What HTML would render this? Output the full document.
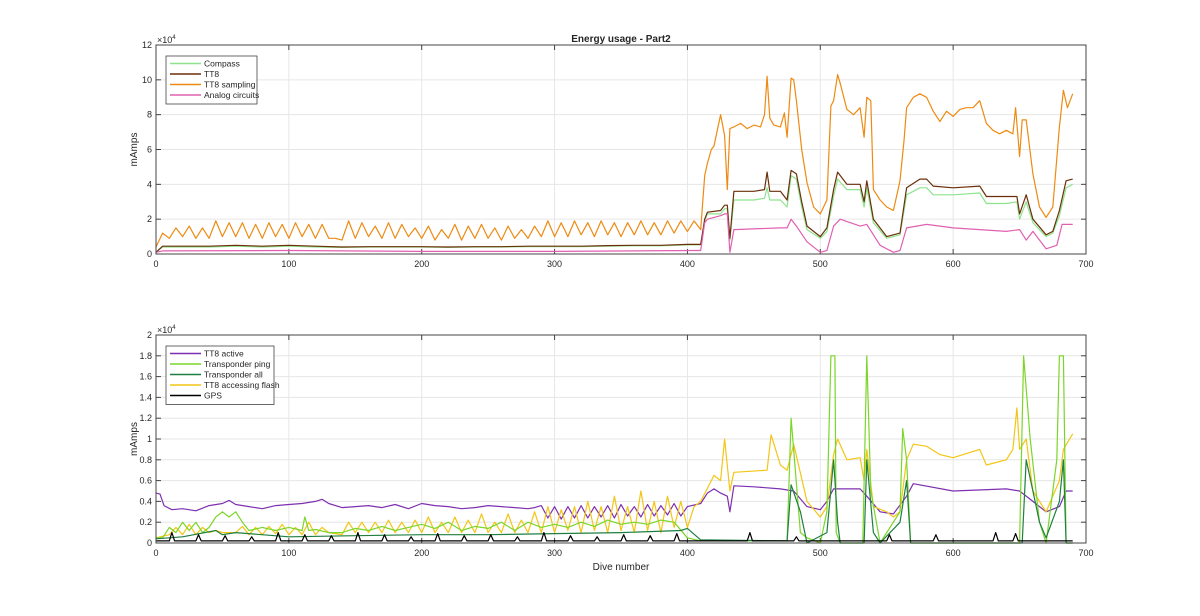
<!DOCTYPE html>
<html><head><meta charset="utf-8"><style>
body{margin:0;background:#fff;font-family:"Liberation Sans",sans-serif}
svg text{font-family:"Liberation Sans",sans-serif;fill:#262626}
</style></head><body>
<svg id="fig" width="1200" height="611" viewBox="0 0 1200 611" xmlns="http://www.w3.org/2000/svg">
<text x="621" y="42" font-size="10" font-weight="bold" text-anchor="middle">Energy usage - Part2</text>
<g id="top"></g>
<g id="bot"></g>
<text x="621" y="570" font-size="10" text-anchor="middle">Dive number</text>
</svg>
<script>
// ---- top panel data (units of 1e4 mAmps) ----
const xTicks=[0,100,200,300,400,500,600,700];
const topYTicks=[0,2,4,6,8,10,12];
const botYTicks=[0,0.2,0.4,0.6,0.8,1,1.2,1.4,1.6,1.8,2];
const samplingDives=[0,5,10,15,20,25,30,35,40,45,50,55,60,65,70,75,80,85,90,95,100,105,110,115,120,125,130,135,140,145,150,155,160,165,170,175,180,185,190,195,200,205,210,215,220,225,230,235,240,245,250,255,260,265,270,275,280,285,290,295,300,305,310,315,320,325,330,335,340,345,350,355,360,365,370,375,380,385,390,395,400,405,410,413,415,418,420,423,425,428,430,432,435,440,445,450,455,458,460,462,465,470,473,475,478,480,482,486,490,495,500,505,508,510,513,515,520,525,530,533,535,538,540,545,550,555,560,563,565,570,575,580,585,590,595,600,605,610,615,620,625,630,635,640,645,647,650,652,655,660,665,670,675,680,683,686,690];
const samplingValues=[0.4,1.2,0.9,1.5,1.0,1.6,0.9,1.5,0.9,1.9,1.0,1.8,1.0,1.8,0.9,1.7,0.9,1.8,1.0,1.7,0.9,1.8,1.0,1.7,0.9,1.7,0.9,0.9,0.8,1.9,0.9,1.8,1.0,1.6,0.9,1.8,0.9,1.7,1.0,1.5,0.9,1.6,0.8,1.4,0.9,1.7,0.8,1.6,0.9,1.7,0.9,1.5,0.8,1.6,0.9,1.4,0.9,1.6,1.0,1.9,1.0,1.8,1.0,1.9,1.1,1.8,1.0,1.9,1.1,1.8,1.0,1.8,1.1,1.9,1.1,1.8,1.1,1.9,1.2,1.9,1.3,1.9,1.4,4.5,5.2,6.0,6.2,7.3,8.0,6.8,3.7,7.2,7.3,7.5,7.2,7.4,7.3,8.0,10.2,7.8,7.4,7.3,8.1,6.7,10.1,10.0,8.8,6.0,4.1,2.7,2.3,3.1,8.5,8.8,10.3,9.8,8.3,8.0,8.4,6.7,9.0,8.8,3.7,3.1,2.7,2.5,4.2,6.5,8.4,9.0,9.2,9.0,8.2,7.6,8.2,7.9,8.3,8.4,8.4,8.8,7.5,7.1,6.9,7.1,6.9,8.4,5.6,7.7,7.7,4.6,2.7,2.1,2.7,7.3,9.4,8.4,9.2];
const ttDives=[0,5,20,40,60,80,100,120,140,160,180,200,220,240,260,280,300,320,340,360,380,400,410,413,415,425,428,430,432,435,450,458,460,462,470,475,478,482,486,490,500,505,510,513,520,530,533,535,540,550,560,565,575,580,585,600,620,625,640,648,650,655,660,670,675,680,685,690];
const ttValues=[0.1,0.45,0.45,0.45,0.5,0.45,0.5,0.45,0.4,0.42,0.42,0.42,0.4,0.42,0.42,0.45,0.45,0.45,0.48,0.5,0.5,0.55,0.55,2.0,2.4,2.5,2.8,2.8,0.9,3.6,3.6,3.7,4.7,3.6,3.6,3.1,4.8,4.6,3.0,1.6,1.0,1.5,3.7,4.7,4.0,4.0,3.0,4.2,2.0,1.0,1.2,3.8,4.3,4.3,3.9,3.8,3.9,3.3,3.3,3.3,2.3,3.4,2.0,1.1,1.3,2.5,4.2,4.3];
const compassDives=[0,5,20,40,60,80,100,120,140,160,180,200,220,240,260,280,300,320,340,360,380,400,410,413,415,425,428,430,432,435,450,458,460,462,470,475,478,482,486,490,500,505,510,513,520,530,533,535,540,550,560,565,575,580,585,600,620,625,640,648,650,655,660,670,675,680,685,690];
const compassValues=[0.1,0.4,0.4,0.4,0.45,0.4,0.45,0.4,0.38,0.4,0.4,0.4,0.38,0.4,0.4,0.42,0.42,0.42,0.45,0.47,0.47,0.52,0.52,1.9,2.3,2.3,2.6,2.6,0.8,3.1,3.1,3.2,3.8,3.1,3.1,2.7,4.5,4.3,2.7,1.4,0.9,1.3,3.3,4.3,3.7,3.7,2.7,3.8,1.8,0.9,1.1,3.4,3.8,3.8,3.4,3.4,3.5,2.9,2.9,3.0,2.0,3.0,1.8,1.0,1.2,2.2,3.8,4.0];
const analogDives=[0,5,100,200,300,405,410,413,415,425,428,430,432,435,470,475,478,482,490,500,505,510,515,530,535,545,555,560,565,580,600,640,650,655,660,670,678,682,690];
const analogValues=[0.1,0.18,0.2,0.15,0.15,0.2,0.2,1.8,2.0,2.2,2.3,2.3,0.1,1.4,1.5,1.5,2.0,1.6,0.7,0.1,0.2,1.6,2.0,1.6,1.7,0.5,0.1,0.2,1.5,1.7,1.5,1.3,1.4,0.8,1.3,0.3,0.5,1.7,1.7];
// ---- bottom panel data (units of 1e4 mAmps) ----
const activeDives=[0,3,6,12,20,30,40,50,55,60,70,80,90,100,110,120,125,130,140,150,160,170,180,190,200,210,220,230,240,250,260,270,280,285,290,295,300,305,310,315,320,325,330,335,340,345,350,355,360,365,370,375,380,385,390,395,400,410,415,420,425,430,432,435,450,470,480,490,500,505,510,530,535,545,555,565,570,600,640,650,660,670,680,685,690];
const activeValues=[0.48,0.47,0.36,0.32,0.33,0.31,0.36,0.38,0.41,0.37,0.35,0.33,0.36,0.37,0.38,0.40,0.42,0.38,0.34,0.35,0.36,0.34,0.37,0.33,0.38,0.36,0.35,0.33,0.34,0.36,0.35,0.34,0.33,0.34,0.36,0.24,0.35,0.23,0.35,0.24,0.36,0.24,0.35,0.25,0.36,0.24,0.37,0.26,0.35,0.25,0.37,0.26,0.36,0.27,0.38,0.26,0.35,0.38,0.48,0.52,0.48,0.45,0.30,0.55,0.54,0.52,0.50,0.35,0.32,0.40,0.52,0.52,0.45,0.30,0.28,0.45,0.57,0.50,0.52,0.50,0.40,0.30,0.35,0.50,0.50];
const flashDives=[0,10,15,20,25,30,35,40,45,50,55,60,65,70,75,80,85,90,95,100,105,110,115,120,125,130,140,145,150,155,160,165,170,175,180,185,190,195,200,205,210,215,220,225,230,235,240,245,250,255,260,265,270,275,280,285,290,295,300,305,310,315,320,325,330,335,340,345,350,355,360,365,370,375,380,385,390,395,400,405,410,420,425,428,432,435,460,463,470,475,480,490,500,505,510,513,520,530,533,535,540,550,555,560,565,570,580,590,600,620,625,640,645,648,650,655,660,670,680,683,690];
const flashValues=[0.05,0.08,0.15,0.08,0.18,0.08,0.15,0.1,0.12,0.1,0.1,0.1,0.16,0.08,0.15,0.08,0.16,0.09,0.18,0.08,0.15,0.08,0.2,0.08,0.15,0.1,0.08,0.2,0.1,0.2,0.1,0.2,0.1,0.22,0.1,0.2,0.1,0.22,0.1,0.25,0.1,0.2,0.1,0.25,0.1,0.22,0.1,0.28,0.1,0.2,0.1,0.28,0.1,0.22,0.1,0.3,0.1,0.35,0.1,0.32,0.12,0.35,0.1,0.4,0.12,0.35,0.1,0.45,0.12,0.35,0.1,0.5,0.12,0.4,0.1,0.45,0.15,0.4,0.15,0.35,0.4,0.65,0.6,1.0,0.5,0.68,0.7,1.04,0.75,0.7,0.95,0.4,0.25,0.35,0.85,1.0,0.8,0.82,0.6,0.9,0.35,0.3,0.25,0.3,0.8,0.95,0.93,0.85,0.82,0.9,0.75,0.8,0.9,1.3,0.9,1.0,0.5,0.3,0.6,0.9,1.05];
const pingDives=[0,5,10,15,20,25,30,35,40,45,50,55,60,65,70,80,90,100,110,112,115,120,130,140,150,160,170,180,190,200,210,220,230,240,250,260,270,280,290,300,310,320,330,340,350,360,370,380,390,400,410,475,478,485,490,500,505,508,511,512,515,532,535,538,545,560,562,565,568,650,653,658,665,670,678,680,683,685,690];
const pingValues=[0.05,0.05,0.15,0.1,0.2,0.12,0.2,0.1,0.15,0.25,0.3,0.25,0.3,0.2,0.12,0.15,0.12,0.15,0.12,0.25,0.12,0.13,0.1,0.1,0.14,0.12,0.16,0.12,0.15,0.18,0.14,0.2,0.12,0.16,0.14,0.2,0.12,0.2,0.15,0.18,0.15,0.2,0.16,0.22,0.18,0.2,0.18,0.22,0.2,0.05,0.02,0.02,1.2,0.1,0.05,0.0,0.3,1.8,1.8,0.1,0.0,0.0,1.8,0.5,0.0,0.3,1.1,0.8,0.0,0.0,1.8,1.0,0.2,0.0,0.8,1.8,1.8,0.0,0.0];
const allDives=[0,20,45,50,60,100,150,200,250,300,350,395,400,410,475,478,485,490,505,510,513,515,533,535,540,545,560,565,568,652,655,660,665,670,680,683,685,690];
const allValues=[0.04,0.06,0.12,0.08,0.1,0.06,0.07,0.08,0.08,0.09,0.1,0.12,0.14,0.03,0.02,0.56,0.3,0.0,0.1,0.8,0.2,0.0,0.0,0.8,0.1,0.0,0.2,0.6,0.0,0.0,0.8,0.5,0.2,0.05,0.4,0.8,0.0,0.0];
const gpsDives=[0,10,12,14,30,32,34,50,52,54,70,72,74,90,92,94,110,112,114,130,132,134,150,152,154,170,172,174,190,192,194,210,212,214,230,232,234,250,252,254,270,272,274,290,292,294,310,312,314,330,332,334,350,352,354,370,372,374,390,392,394,420,445,447,449,480,482,484,550,552,554,585,587,589,630,632,634,645,647,649,690];
const gpsValues=[0.02,0.02,0.1,0.02,0.02,0.08,0.02,0.02,0.07,0.02,0.02,0.06,0.02,0.02,0.1,0.02,0.02,0.08,0.02,0.02,0.07,0.02,0.02,0.1,0.02,0.02,0.08,0.02,0.02,0.06,0.02,0.02,0.09,0.02,0.02,0.07,0.02,0.02,0.08,0.02,0.02,0.06,0.02,0.02,0.1,0.02,0.02,0.07,0.02,0.02,0.06,0.02,0.02,0.08,0.02,0.02,0.07,0.02,0.02,0.09,0.02,0.02,0.02,0.1,0.02,0.02,0.06,0.02,0.02,0.08,0.02,0.02,0.08,0.02,0.02,0.1,0.02,0.02,0.09,0.02,0.02];

const NS='http://www.w3.org/2000/svg';
const X0=156,X1=1086;
function xs(d){return X0+(d/700)*(X1-X0);}
function mk(tag,attrs,parent){const e=document.createElementNS(NS,tag);for(const k in attrs)e.setAttribute(k,attrs[k]);parent.appendChild(e);return e;}

function panel(g,yTop,yBot,yMax,ticks,series,legend,leg){
  const ys=v=>yBot-(v/yMax)*(yBot-yTop);
  const bg=mk('rect',{x:X0,y:yTop,width:X1-X0,height:yBot-yTop,fill:'#fff'},g);
  
  
  xTicks.forEach(t=>{
    const l=mk('line',{x1:xs(t),x2:xs(t),y1:yTop,y2:yBot,stroke:'#e6e6e6','stroke-width':1},g);
    
    
    const tk=mk('line',{x1:xs(t),x2:xs(t),y1:yBot,y2:yBot-5,stroke:'#444'},g);
    
    
    const tk2=mk('line',{x1:xs(t),x2:xs(t),y1:yTop,y2:yTop+5,stroke:'#444'},g);
    
    
    const tx=mk('text',{x:xs(t),y:yBot+13,'font-size':9,'text-anchor':'middle'},g);
    tx.textContent=t;
    
    
  });
  ticks.forEach(t=>{
    const l=mk('line',{x1:X0,x2:X1,y1:ys(t),y2:ys(t),stroke:'#e6e6e6'},g);
    
    
    const tk=mk('line',{x1:X0,x2:X0+5,y1:ys(t),y2:ys(t),stroke:'#444'},g);
    
    
    const tk2=mk('line',{x1:X1,x2:X1-5,y1:ys(t),y2:ys(t),stroke:'#444'},g);
    
    
    const tx=mk('text',{x:X0-4,y:ys(t)+3,'font-size':9,'text-anchor':'end'},g);
    tx.textContent=t;
    
    
  });
  const ex=mk('text',{x:X0+1,y:yTop-2,'font-size':9},g);
  ex.innerHTML='×10<tspan dy="-4" font-size="6">4</tspan>';
  
  
  const yl=mk('text',{x:0,y:0,'font-size':10,'text-anchor':'middle',transform:`translate(${X0-19},${(yTop+yBot)/2}) rotate(-90)`},g);
  yl.textContent='mAmps';
  
  
  series.forEach(s=>{
    const pts=s.d.map((d,i)=>xs(d).toFixed(1)+','+ys(s.v[i]).toFixed(1)).join(' ');
    const p=mk('polyline',{points:pts,fill:'none',stroke:s.c,'stroke-width':s.w||1.2,'stroke-linejoin':'round'},g);
    
    
  });
  const frame=mk('rect',{x:X0,y:yTop,width:X1-X0,height:yBot-yTop,fill:'none',stroke:'#444','stroke-width':1},g);
  
  
  const lg=mk('g',{},g);
  
  
  const lb=mk('rect',{x:leg.x,y:leg.y,width:leg.w,height:legend.length*10.5+6,fill:'#fff',stroke:'#444','stroke-width':0.8},lg);
  
  
  legend.forEach((e,i)=>{
    const yy=leg.y+7.5+i*10.5;
    const ln=mk('line',{x1:leg.x+4,x2:leg.x+35,y1:yy,y2:yy,stroke:e.c,'stroke-width':1.5},lg);
    
    
    const t=mk('text',{x:leg.x+38,y:yy+3,'font-size':8.5},lg);
    t.textContent=e.t;
    
    
  });
}
const topSeries=[
 {name:'tt8-sampling-line',d:samplingDives,v:samplingValues,c:'#ee8a12'},
 {name:'compass-line',d:compassDives,v:compassValues,c:'#8fe38f'},
 {name:'tt8-line',d:ttDives,v:ttValues,c:'#6b2f0a'},
 {name:'analog-circuits-line',d:analogDives,v:analogValues,c:'#e060b0'}];
panel(document.getElementById('top'),45,254,12,topYTicks,topSeries,
 [{t:'Compass',c:'#8fe38f'},{t:'TT8',c:'#6b2f0a'},{t:'TT8 sampling',c:'#ee8a12'},{t:'Analog circuits',c:'#e060b0'}],
 {x:166,y:56,w:91});
const botSeries=[
 {name:'tt8-active-line',d:activeDives,v:activeValues,c:'#7e2fb0'},
 {name:'tt8-accessing-flash-line',d:flashDives,v:flashValues,c:'#f3c515'},
 {name:'transponder-ping-line',d:pingDives,v:pingValues,c:'#7ad628'},
 {name:'transponder-all-line',d:allDives,v:allValues,c:'#1f7f40'},
 {name:'gps-line',d:gpsDives,v:gpsValues,c:'#000'}];
panel(document.getElementById('bot'),335,543,2,botYTicks,botSeries,
 [{t:'TT8 active',c:'#7e2fb0'},{t:'Transponder ping',c:'#7ad628'},{t:'Transponder all',c:'#1f7f40'},{t:'TT8 accessing flash',c:'#f3c515'},{t:'GPS',c:'#000'}],
 {x:166,y:346,w:108});
</script>
</body></html>
